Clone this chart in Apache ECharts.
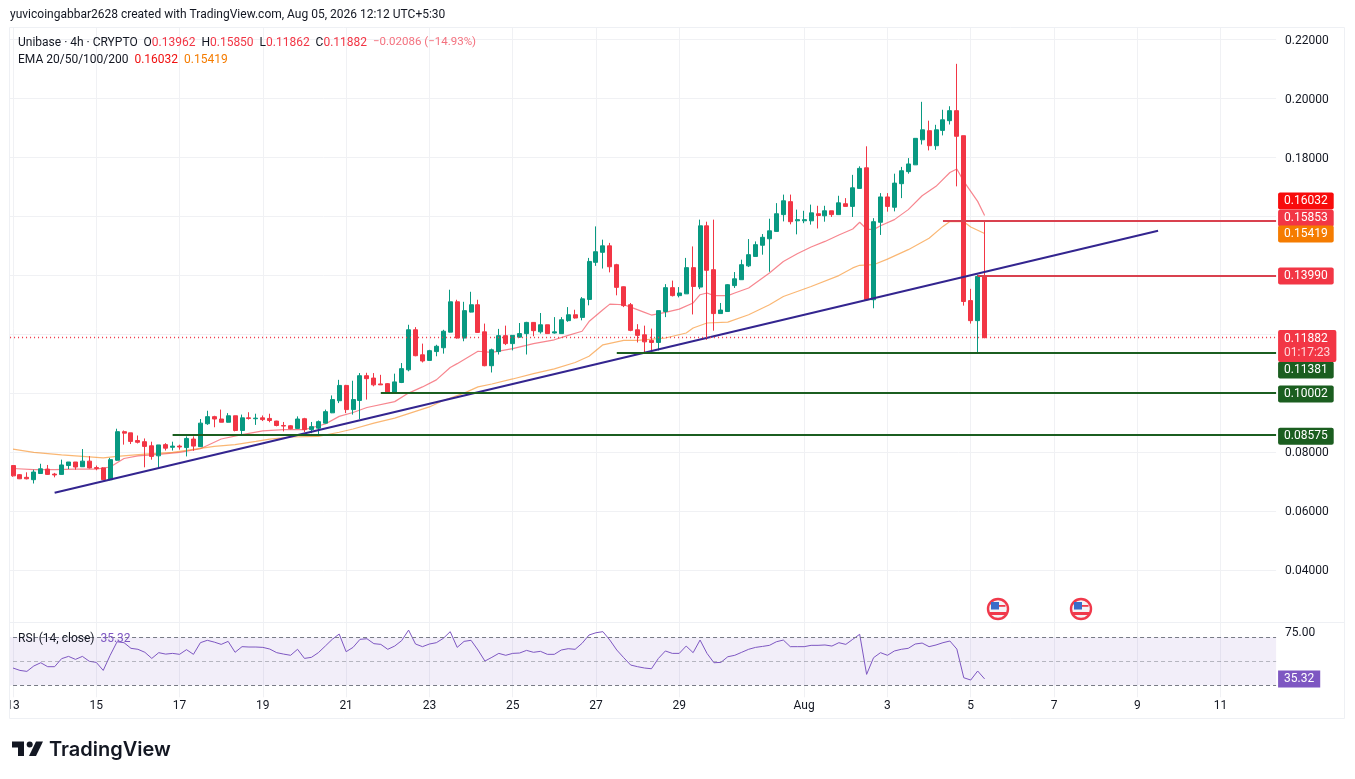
<!DOCTYPE html>
<html><head><meta charset="utf-8">
<style>html,body{margin:0;padding:0;background:#fff}#c{width:1355px;height:779px}</style>
<script src="https://cdn.jsdelivr.net/npm/echarts@6/dist/echarts.min.js"></script>
</head><body><div id="c"></div>
<script>
const opens=[0.0754,0.0723,0.0714,0.0706,0.0727,0.0742,0.0725,0.0724,0.0754,0.0766,
0.0750,0.0769,0.0747,0.0746,0.0706,0.0772,0.0869,0.0865,0.0839,0.0835,
0.0821,0.0787,0.0825,0.0816,0.0820,0.0815,0.0844,0.0818,0.0896,0.0920,
0.0912,0.0901,0.0923,0.0873,0.0916,0.0913,0.0916,0.0914,0.0905,0.0890,
0.0889,0.0880,0.0913,0.0876,0.0881,0.0898,0.0933,0.0974,0.1026,0.0944,
0.0975,0.1059,0.1051,0.1031,0.1032,0.1002,0.1036,0.1079,0.1215,0.1130,
0.1111,0.1141,0.1154,0.1207,0.1310,0.1187,0.1275,0.1300,0.1208,0.1093,
0.1141,0.1195,0.1168,0.1190,0.1202,0.1240,0.1208,0.1232,0.1204,0.1202,
0.1246,0.1266,0.1257,0.1318,0.1444,0.1478,0.1500,0.1436,0.1361,0.1300,
0.1215,0.1198,0.1179,0.1172,0.1277,0.1358,0.1331,0.1337,0.1426,0.1360,
0.1568,0.1419,0.1270,0.1277,0.1365,0.1385,0.1432,0.1464,0.1502,0.1524,
0.1549,0.1606,0.1650,0.1585,0.1585,0.1585,0.1609,0.1602,0.1619,0.1606,
0.1643,0.1634,0.1695,0.1765,0.1317,0.1580,0.1666,0.1631,0.1711,0.1752,
0.1775,0.1860,0.1891,0.1840,0.1892,0.1925,0.1959,0.1874,0.1314,0.1246,0.13962];
const closes=[0.0719,0.0709,0.0709,0.0732,0.0743,0.0724,0.0722,0.0756,0.0766,0.0749,
0.0769,0.0746,0.0744,0.0706,0.0774,0.0869,0.0864,0.0836,0.0833,0.0819,
0.0785,0.0824,0.0813,0.0820,0.0817,0.0846,0.0820,0.0898,0.0920,0.0912,
0.0901,0.0923,0.0873,0.0916,0.0914,0.0915,0.0910,0.0907,0.0890,0.0888,
0.0879,0.0912,0.0876,0.0886,0.0903,0.0937,0.0978,0.1026,0.0944,0.0978,
0.1059,0.1049,0.1028,0.1028,0.1002,0.1038,0.1083,0.1215,0.1127,0.1109,
0.1144,0.1159,0.1210,0.1310,0.1187,0.1280,0.1300,0.1206,0.1093,0.1147,
0.1195,0.1168,0.1196,0.1202,0.1240,0.1212,0.1232,0.1202,0.1208,0.1249,
0.1266,0.1255,0.1320,0.1447,0.1480,0.1500,0.1429,0.1359,0.1297,0.1213,
0.1196,0.1174,0.1172,0.1280,0.1358,0.1331,0.1340,0.1426,0.1362,0.1568,
0.1417,0.1270,0.1282,0.1368,0.1388,0.1436,0.1470,0.1504,0.1529,0.1551,
0.1609,0.1653,0.1582,0.1589,0.1589,0.1612,0.1603,0.1619,0.1606,0.1646,
0.1634,0.1697,0.1763,0.1317,0.1582,0.1666,0.1634,0.1713,0.1755,0.1778,
0.1865,0.1894,0.1840,0.1894,0.1928,0.1959,0.1872,0.1311,0.1246,0.1396,0.11882];
const lows=[0.0716,0.0708,0.0707,0.0693,0.0726,0.0722,0.0714,0.0723,0.0742,0.0740,
0.0749,0.0744,0.0738,0.0705,0.0704,0.0770,0.0825,0.0827,0.0829,0.0748,
0.0774,0.0749,0.0805,0.0805,0.0808,0.0785,0.0804,0.0817,0.0892,0.0884,
0.0901,0.0900,0.0870,0.0855,0.0910,0.0892,0.0905,0.0901,0.0887,0.0870,
0.0877,0.0879,0.0868,0.0864,0.0859,0.0897,0.0932,0.0966,0.0932,0.0927,
0.0912,0.0978,0.1023,0.1028,0.1002,0.1002,0.1034,0.1074,0.1125,0.1104,
0.1110,0.1125,0.1134,0.1206,0.1185,0.1176,0.1274,0.1204,0.1091,0.1070,
0.1131,0.1163,0.1145,0.1188,0.1131,0.1193,0.1202,0.1202,0.1202,0.1202,
0.1242,0.1253,0.1247,0.1298,0.1432,0.1423,0.1410,0.1332,0.1292,0.1210,
0.1172,0.1136,0.1143,0.1145,0.1258,0.1328,0.1325,0.1337,0.1267,0.1353,
0.1181,0.1212,0.1270,0.1277,0.1357,0.1385,0.1428,0.1464,0.1470,0.1412,
0.1548,0.1583,0.1573,0.1539,0.1577,0.1572,0.1559,0.1582,0.1598,0.1606,
0.1634,0.1598,0.1695,0.1315,0.1288,0.1537,0.1616,0.1617,0.1662,0.1745,
0.1775,0.1844,0.1824,0.1826,0.1875,0.1912,0.1702,0.1297,0.1236,0.1138,0.11862];
const highs=[0.0754,0.0725,0.0731,0.0740,0.0760,0.0756,0.0729,0.0774,0.0766,0.0766,
0.0810,0.0786,0.0754,0.0748,0.0780,0.0879,0.0873,0.0865,0.0856,0.0846,
0.0835,0.0824,0.0830,0.0835,0.0825,0.0853,0.0853,0.0912,0.0940,0.0923,
0.0944,0.0932,0.0923,0.0927,0.0935,0.0930,0.0924,0.0930,0.0906,0.0902,
0.0891,0.0921,0.0916,0.0902,0.0907,0.0944,0.0992,0.1045,0.1028,0.1042,
0.1068,0.1069,0.1068,0.1062,0.1034,0.1066,0.1102,0.1232,0.1224,0.1168,
0.1147,0.1164,0.1215,0.1351,0.1317,0.1310,0.1344,0.1317,0.1236,0.1151,
0.1218,0.1229,0.1196,0.1238,0.1242,0.1241,0.1272,0.1232,0.1258,0.1258,
0.1292,0.1283,0.1326,0.1459,0.1566,0.1521,0.1510,0.1439,0.1362,0.1306,
0.1234,0.1229,0.1219,0.1280,0.1370,0.1382,0.1360,0.1459,0.1498,0.1589,
0.1582,0.1589,0.1306,0.1370,0.1411,0.1453,0.1523,0.1515,0.1540,0.1592,
0.1645,0.1674,0.1674,0.1623,0.1619,0.1640,0.1636,0.1636,0.1619,0.1670,
0.1662,0.1741,0.1770,0.1838,0.1594,0.1679,0.1679,0.1745,0.1768,0.1798,
0.1866,0.1989,0.1925,0.1911,0.1962,0.1974,0.2118,0.1874,0.1354,0.1402,0.15850];

// EMA traces read at the candles where the line is clearly visible
const ema20Candles=[0,3,6,9,12,14,16,18,21,24,27,30,33,36,39,42,45,47,49,51,55,57,59,61,63,64,67,69,72,75,78,80,82,83,85,86,88,89,91,92,94,96,98,99,100,101,103,104,106,108,109,111,113,115,117,119,121,122,123,124,125,127,129,131,133,135,136,137,138,139,140];
const ema20=[0.0744,0.0740,0.0740,0.0742,0.0742,0.0749,0.0778,0.0787,0.0792,0.0799,0.0811,0.0844,0.0859,0.0872,0.0876,0.0876,0.0895,0.0921,0.0934,0.0951,0.0971,0.1000,0.1021,0.1045,0.1087,0.1100,0.1142,0.1138,0.1151,0.1168,0.1181,0.1196,0.1210,0.1243,0.1283,0.1302,0.1300,0.1292,0.1274,0.1265,0.1274,0.1285,0.1306,0.1334,0.1340,0.1331,0.1331,0.1340,0.1357,0.1391,0.1408,0.1447,0.1473,0.1496,0.1515,0.1537,0.1557,0.1580,0.1557,0.1555,0.1568,0.1589,0.1623,0.1670,0.1702,0.1749,0.1761,0.1719,0.1685,0.1651,0.16032];
const ema50Candles=[0,3,7,10,13,15,19,23,27,29,32,35,37,40,44,47,49,52,55,58,60,62,65,67,69,72,75,78,81,83,85,88,90,94,97,98,100,103,106,109,111,115,119,121,122,124,126,129,132,134,135,137,138,140];
const ema50=[0.0810,0.0799,0.0790,0.0785,0.0780,0.0785,0.0793,0.0799,0.0812,0.0819,0.0825,0.0836,0.0844,0.0851,0.0853,0.0867,0.0878,0.0898,0.0915,0.0938,0.0953,0.0975,0.1000,0.1021,0.1031,0.1048,0.1066,0.1082,0.1104,0.1125,0.1164,0.1179,0.1179,0.1187,0.1204,0.1221,0.1238,0.1241,0.1266,0.1300,0.1328,0.1362,0.1399,0.1425,0.1434,0.1436,0.1455,0.1487,0.1526,0.1566,0.1583,0.1582,0.1564,0.15419];

const rsi=[44.4,42.4,41.6,46.1,48.8,45.5,45.5,52.2,54.1,51.6,54.1,50,49.1,42.4,55,66.3,65.5,60.8,60,57.5,
52.4,57.2,56,56.6,55.8,59.7,55.8,65.5,67.5,66,64.1,66.6,57.5,62.2,61.9,61.9,61.6,60.2,57.2,56,
55,60,52.4,53.3,57.2,62.7,68.3,72.7,58,61.6,68.3,68.8,64.7,64.1,60,62.7,67.2,76,64.4,62.2,
64.4,65.5,69.1,74.7,61.6,66.6,67.5,59.4,50.2,53.3,56.6,55,56.6,56.9,59.1,57.5,58.3,55.8,55.8,59.4,
60.5,60,65,71.9,73.8,74.7,67.7,59.4,53,46.9,45.5,44.4,43.8,52.4,58.6,56.6,56.6,62.7,57.2,67.7,
56.6,48.8,49.1,53.8,55,57.5,60,61.6,62.4,63.3,66.3,67.7,62.2,62.2,62.2,63.3,63.3,63.6,62.7,65.5,
64.1,68.3,72.5,39.1,53,57.2,55,58.6,60,60.8,64.4,65.2,62.2,63.6,65.5,66.9,60.2,36.3,34.4,41.9,35.32];

const tickLabels=['13','15','17','19','21','23','25','27','29','Aug','3','5','7','9','11'];
const tickCandles=[0,12,24,36,48,60,72,84,96,114,126,138,150,162,174];
const priceTicks={min:0.02,max:0.22407,step:0.02};
const trendCandles=[6,165];
const trendPrices=[0.06618,0.15514];
const levels=[{start:134,price:0.15853,color:'#d9414f'},{start:139,price:0.13990,color:'#d9414f'},
  {start:87,price:0.11381,color:'#1b5e20'},{start:53,price:0.10002,color:'#1b5e20'},{start:23,price:0.08575,color:'#1b5e20'}];
const tags=[{v:0.16032,bg:'#f80b0b',dy:-14.5},{v:0.15853,bg:'#f23645',dy:-2.5},{v:0.15419,bg:'#f57c00',dy:0.5},
  {v:0.13990,bg:'#f23645',dy:0.5},{v:0.11381,bg:'#1b5e20',dy:17.5},{v:0.10002,bg:'#1b5e20',dy:1},{v:0.08575,bg:'#1b5e20',dy:1.2}];
const lastPrice=0.11882, countdown='01:17:23', lastRsi=35.32;
const attribution='yuvicoingabbar2628 created with TradingView.com, Aug 05, 2026 12:12 UTC+5:30';

const FONT='Roboto';
const PAD=1, SLOTS=184, END=SLOTS-1;
const cats=new Array(SLOTS).fill('');
tickCandles.forEach((c,i)=>{cats[c+PAD]=tickLabels[i];});
const at=(xs,ys)=>xs.map((x,i)=>[x+PAD,ys[i]]);
const rows=opens.map((o,i)=>[o,closes[i],lows[i],highs[i]]);
const isTick=(i,name)=>name!=='';
const GREEN='#089981',RED='#f23645',PURPLE='#7e57c2',GRID='#f0f1f4',FRAME='#eef0f4';
const axisRich={s:{fontSize:1,lineHeight:3,height:3},a:{color:'#131722',fontFamily:FONT,fontSize:12,lineHeight:14}};

const chart=echarts.init(document.getElementById('c'),null,{renderer:'canvas',width:1355,height:779});

function flag(cx,cy){
  return {type:'group',x:cx,y:cy,z:60,children:[
    {type:'circle',z:60,shape:{cx:0,cy:0,r:10},style:{fill:'#f4f4f6',stroke:'#f0394b',lineWidth:2.4}},
    {type:'rect',z:61,shape:{x:-7,y:-7,width:8,height:7.5},style:{fill:'#3a6cc8'}},
    {type:'rect',z:61,shape:{x:1,y:-4,width:6.5,height:1.8},style:{fill:'#f0394b'}},
    {type:'rect',z:61,shape:{x:-8,y:3,width:16,height:3},style:{fill:'#f0394b'}}
  ]};
}
const txt=(x,y,text,rich)=>({type:'text',z:70,x,y,style:{text,rich,fill:'#131722',font:'12px '+FONT,verticalAlign:'middle'}});

chart.setOption({
  animation:false,
  backgroundColor:'#fff',
  grid:[{left:6.06,top:27.7,width:1270.02,height:601},{left:6.06,top:622,width:1270.02,height:75.3}],
  xAxis:[
   {type:'category',gridIndex:0,data:cats,boundaryGap:false,axisLine:{show:false},axisTick:{show:false},axisLabel:{show:false},
    splitLine:{show:true,interval:isTick,lineStyle:{color:GRID,width:1}}},
   {type:'category',gridIndex:1,data:cats,boundaryGap:false,axisLine:{show:false},axisTick:{show:false},
    axisLabel:{interval:isTick,color:'#131722',fontFamily:FONT,fontSize:12,margin:3},
    splitLine:{show:true,interval:isTick,lineStyle:{color:GRID,width:1}}}
  ],
  yAxis:[
   {type:'value',gridIndex:0,position:'right',min:priceTicks.min,max:priceTicks.max,interval:priceTicks.step,
    axisLine:{show:false},axisTick:{show:false},
    axisLabel:{margin:9,showMinLabel:false,showMaxLabel:false,rich:axisRich,formatter:v=>'{s| }\n{a|'+v.toFixed(5)+'}'},
    splitLine:{show:true,showMinLine:false,showMaxLine:false,lineStyle:{color:GRID,width:1}}},
   {type:'value',gridIndex:1,position:'right',min:20,max:82.75,interval:5,
    axisLine:{show:false},axisTick:{show:false},splitLine:{show:false},
    axisLabel:{margin:9,rich:axisRich,formatter:v=>v===75?'{s| }\n{a|75.00}':''}}
  ],
  series:[
   {type:'line',name:'EMA 20',xAxisIndex:0,yAxisIndex:0,z:2,data:at(ema20Candles,ema20),symbol:'none',lineStyle:{color:RED,width:1.2,opacity:.6}},
   {type:'line',name:'EMA 50',xAxisIndex:0,yAxisIndex:0,z:2,data:at(ema50Candles,ema50),symbol:'none',lineStyle:{color:'#f57c00',width:1.2,opacity:.55}},
   {type:'candlestick',name:'Unibase',xAxisIndex:0,yAxisIndex:0,z:3,barWidth:4.5,data:[['-','-','-','-']].concat(rows),
    itemStyle:{color:GREEN,color0:RED,borderColor:GREEN,borderColor0:RED,borderWidth:1}},
   {type:'line',name:'Trend',xAxisIndex:0,yAxisIndex:0,z:4,data:at(trendCandles,trendPrices),symbol:'none',lineStyle:{color:'#33258f',width:2}},
   {type:'line',name:'Levels',xAxisIndex:0,yAxisIndex:0,z:4,data:[],symbol:'none',
    markLine:{silent:true,symbol:['none','none'],animation:false,label:{show:false},
      data:levels.map(l=>[{coord:[l.start+PAD,l.price],lineStyle:{color:l.color,width:2,type:'solid'}},{coord:[END,l.price]}])
       .concat([[{coord:[0,lastPrice],lineStyle:{color:RED,width:1.4,type:[1,3]}},{coord:[END,lastPrice]}]])}},
   {type:'line',name:'Tags',xAxisIndex:0,yAxisIndex:0,z:9,data:[],symbol:'none',
    markPoint:{silent:true,animation:false,symbol:'circle',symbolSize:0,
      data:tags.map(t=>({coord:[END,t.v],value:t.v,
        label:{show:true,position:'right',distance:2,offset:[0,t.dy],formatter:t.v.toFixed(5),color:'#fff',fontFamily:FONT,fontSize:12,lineHeight:13,
          backgroundColor:t.bg,padding:[2,6,2,6],borderRadius:2}}))
       .concat([{coord:[END,lastPrice],value:lastPrice,
        label:{show:true,position:'right',distance:2,offset:[0,8.3],formatter:'{a|'+lastPrice.toFixed(5)+'}\n{b|'+countdown+'}',
          backgroundColor:RED,padding:[2,6,2,6],borderRadius:2,fontFamily:FONT,
          rich:{a:{color:'#fff',fontFamily:FONT,fontSize:12,lineHeight:14},b:{color:'#ffd5d9',fontFamily:FONT,fontSize:12,lineHeight:14}}}}])}},
   {type:'line',name:'RSI',xAxisIndex:1,yAxisIndex:1,z:3,data:rsi.map((v,i)=>[i+PAD,v]),symbol:'none',lineStyle:{color:PURPLE,width:1},
    markArea:{silent:true,animation:false,itemStyle:{color:'rgba(126,87,194,0.1)'},data:[[{yAxis:30},{yAxis:70}]]},
    markLine:{silent:true,animation:false,symbol:['none','none'],label:{show:false},
      data:[{yAxis:70,lineStyle:{color:'#787b86',width:1,type:[4,3]}},{yAxis:50,lineStyle:{color:'rgba(120,123,134,.5)',width:1,type:[4,3]}},{yAxis:30,lineStyle:{color:'#787b86',width:1,type:[4,3]}}]},
    markPoint:{silent:true,animation:false,symbol:'circle',symbolSize:0,
      data:[{coord:[END,lastRsi],value:lastRsi,label:{show:true,position:'right',distance:2,formatter:lastRsi.toFixed(2),color:'#fff',fontFamily:FONT,fontSize:12,lineHeight:13,backgroundColor:PURPLE,padding:[2,6,2,6]}}]}}
  ],
  graphic:{elements:[
    {type:'rect',z:50,shape:{x:0,y:0,width:9.5,height:779},style:{fill:'#fff'}},
    {type:'rect',z:51,shape:{x:9.5,y:27.5,width:1335,height:691},style:{fill:'none',stroke:FRAME,lineWidth:1}},
    {type:'line',z:51,shape:{x1:10,y1:622.5,x2:1344,y2:622.5},style:{stroke:FRAME,lineWidth:1}},
    flag(998,609),flag(1081,609),
    txt(10,15,attribution),
    txt(18,42.5,'Unibase · 4h · CRYPTO  O{r|0.13962}  H{r|0.15850}  L{r|0.11862}  C{r|0.11882}  {p|−0.02086 (−14.93%)}',
      {r:{fill:RED,font:'12px '+FONT},p:{fill:'#f4717e',font:'11.5px '+FONT}}),
    txt(18,59.5,'EMA 20/50/100/200  {r|0.16032}  {o|0.15419}',{r:{fill:'#f01010',font:'12px '+FONT},o:{fill:'#f57c00',font:'12px '+FONT}}),
    txt(18,638.5,'RSI (14, close)  {v|35.32}',{v:{fill:PURPLE,font:'12px '+FONT}}),
    {type:'polygon',z:70,shape:{points:[[12,741.5],[24,741.5],[24,756],[18,756],[18,747.5],[12,747.5]]},style:{fill:'#131722'}},
    {type:'circle',z:70,shape:{cx:29.7,cy:744.5,r:3},style:{fill:'#131722'}},
    {type:'polygon',z:70,shape:{points:[[36,741.5],[43,741.5],[36,756],[29,756]]},style:{fill:'#131722'}},
    {type:'text',z:70,x:49,y:750,style:{text:'TradingView',fill:'#131722',font:'600 20px Inter',verticalAlign:'middle'}}
  ]}
});
</script></body></html>
